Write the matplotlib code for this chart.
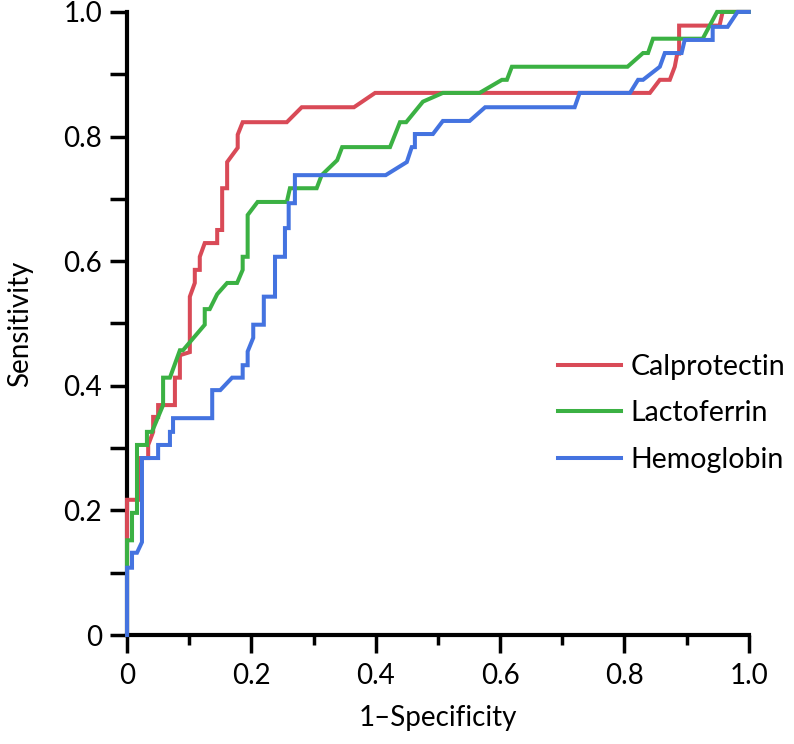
import matplotlib
matplotlib.use("Agg")
import matplotlib.pyplot as plt
from matplotlib.ticker import MultipleLocator, FixedLocator

plt.rcParams['font.family'] = ['Lato', 'DejaVu Sans']

# ROC curves (1-specificity, sensitivity)
calpro_x = [0, 0, 0.021, 0.021, 0.034, 0.034, 0.042, 0.042, 0.050, 0.050, 0.077, 0.077,
            0.085, 0.085, 0.101, 0.101, 0.109, 0.109, 0.117, 0.117, 0.125, 0.145, 0.145,
            0.153, 0.153, 0.161, 0.161, 0.178, 0.178, 0.186, 0.257, 0.281, 0.365, 0.399,
            0.841, 0.857, 0.873, 0.881, 0.885, 0.888, 0.888, 0.953, 0.958, 1.0]
calpro_y = [0, 0.217, 0.217, 0.284, 0.284, 0.305, 0.326, 0.350, 0.350, 0.369, 0.369, 0.413,
            0.413, 0.449, 0.454, 0.543, 0.565, 0.586, 0.586, 0.607, 0.629, 0.629, 0.650,
            0.650, 0.717, 0.717, 0.759, 0.782, 0.803, 0.823, 0.823, 0.847, 0.847, 0.870,
            0.870, 0.891, 0.891, 0.912, 0.933, 0.933, 0.978, 0.978, 1.0, 1.0]

lacto_x = [0, 0, 0.008, 0.008, 0.016, 0.016, 0.032, 0.032, 0.040, 0.058, 0.058, 0.069,
           0.085, 0.090, 0.125, 0.125, 0.133, 0.145, 0.161, 0.177, 0.186, 0.186, 0.194,
           0.194, 0.210, 0.257, 0.262, 0.305, 0.313, 0.338, 0.346, 0.423, 0.439, 0.449,
           0.476, 0.508, 0.567, 0.603, 0.611, 0.619, 0.805, 0.830, 0.838, 0.846, 0.926,
           0.949, 1.0]
lacto_y = [0, 0.152, 0.152, 0.196, 0.196, 0.305, 0.305, 0.326, 0.326, 0.369, 0.413, 0.413,
           0.457, 0.457, 0.498, 0.523, 0.523, 0.547, 0.565, 0.565, 0.586, 0.607, 0.607,
           0.674, 0.695, 0.695, 0.717, 0.717, 0.738, 0.762, 0.783, 0.783, 0.823, 0.823,
           0.856, 0.870, 0.870, 0.891, 0.891, 0.912, 0.912, 0.934, 0.934, 0.957, 0.957,
           1.0, 1.0]

hemo_x = [0, 0, 0.008, 0.008, 0.016, 0.024, 0.024, 0.050, 0.050, 0.069, 0.069, 0.074,
          0.074, 0.137, 0.137, 0.150, 0.169, 0.186, 0.186, 0.194, 0.194, 0.203, 0.203,
          0.220, 0.220, 0.238, 0.238, 0.254, 0.254, 0.260, 0.260, 0.270, 0.270, 0.416,
          0.450, 0.458, 0.463, 0.463, 0.492, 0.508, 0.551, 0.576, 0.720, 0.728, 0.809,
          0.822, 0.830, 0.857, 0.865, 0.892, 0.897, 0.942, 0.942, 0.966, 0.982, 1.0]
hemo_y = [0, 0.108, 0.108, 0.132, 0.132, 0.149, 0.284, 0.284, 0.305, 0.305, 0.326, 0.326,
          0.348, 0.348, 0.393, 0.393, 0.413, 0.413, 0.433, 0.433, 0.455, 0.477, 0.498,
          0.498, 0.543, 0.543, 0.607, 0.607, 0.653, 0.653, 0.693, 0.693, 0.738, 0.738,
          0.759, 0.783, 0.783, 0.804, 0.804, 0.825, 0.825, 0.847, 0.847, 0.870, 0.870,
          0.891, 0.891, 0.912, 0.934, 0.934, 0.955, 0.955, 0.976, 0.976, 1.0, 1.0]

series = [
    ("Calprotectin", calpro_x, calpro_y, "#d94a57"),
    ("Lactoferrin", lacto_x, lacto_y, "#3bb143"),
    ("Hemoglobin", hemo_x, hemo_y, "#4473e0"),
]

fig = plt.figure(figsize=(7.94, 7.44), dpi=100)
ax = fig.add_axes([0.160, 0.1465, 0.783, 0.8375])

for name, xs, ys, col in series:
    ax.plot(xs, ys, color=col, lw=2.9, label=name, clip_on=False, zorder=3,
            solid_joinstyle='miter')

ax.set_xlim(0, 1)
ax.set_ylim(0, 1)

for side in ['top', 'right']:
    ax.spines[side].set_visible(False)
for side in ['left', 'bottom']:
    ax.spines[side].set_linewidth(3)

ax.xaxis.set_major_locator(FixedLocator([0, 0.2, 0.4, 0.6, 0.8, 1.0]))
ax.xaxis.set_minor_locator(MultipleLocator(0.1))
ax.yaxis.set_major_locator(FixedLocator([0, 0.2, 0.4, 0.6, 0.8, 1.0]))
ax.yaxis.set_minor_locator(MultipleLocator(0.1))
ax.set_xticklabels(['0', '0.2', '0.4', '0.6', '0.8', '1.0'])
ax.set_yticklabels(['0', '0.2', '0.4', '0.6', '0.8', '1.0'])

ax.tick_params(axis='x', which='major', length=13, width=2.5, labelsize=20, pad=7)
ax.tick_params(axis='x', which='minor', length=7, width=2.5)
ax.tick_params(axis='y', which='both', length=12, width=2.5, labelsize=20, pad=6)

ax.set_xlabel('1\u2013Specificity', fontsize=20, labelpad=12)
ax.set_ylabel('Sensitivity', fontsize=20, labelpad=22)

leg = ax.legend(loc='center left', bbox_to_anchor=(0.693, 0.356), frameon=False,
                fontsize=20.5, handlelength=2.2, handletextpad=0.35, labelspacing=0.72,
                borderaxespad=0, borderpad=0)

fig.savefig('out.png', dpi=100)
